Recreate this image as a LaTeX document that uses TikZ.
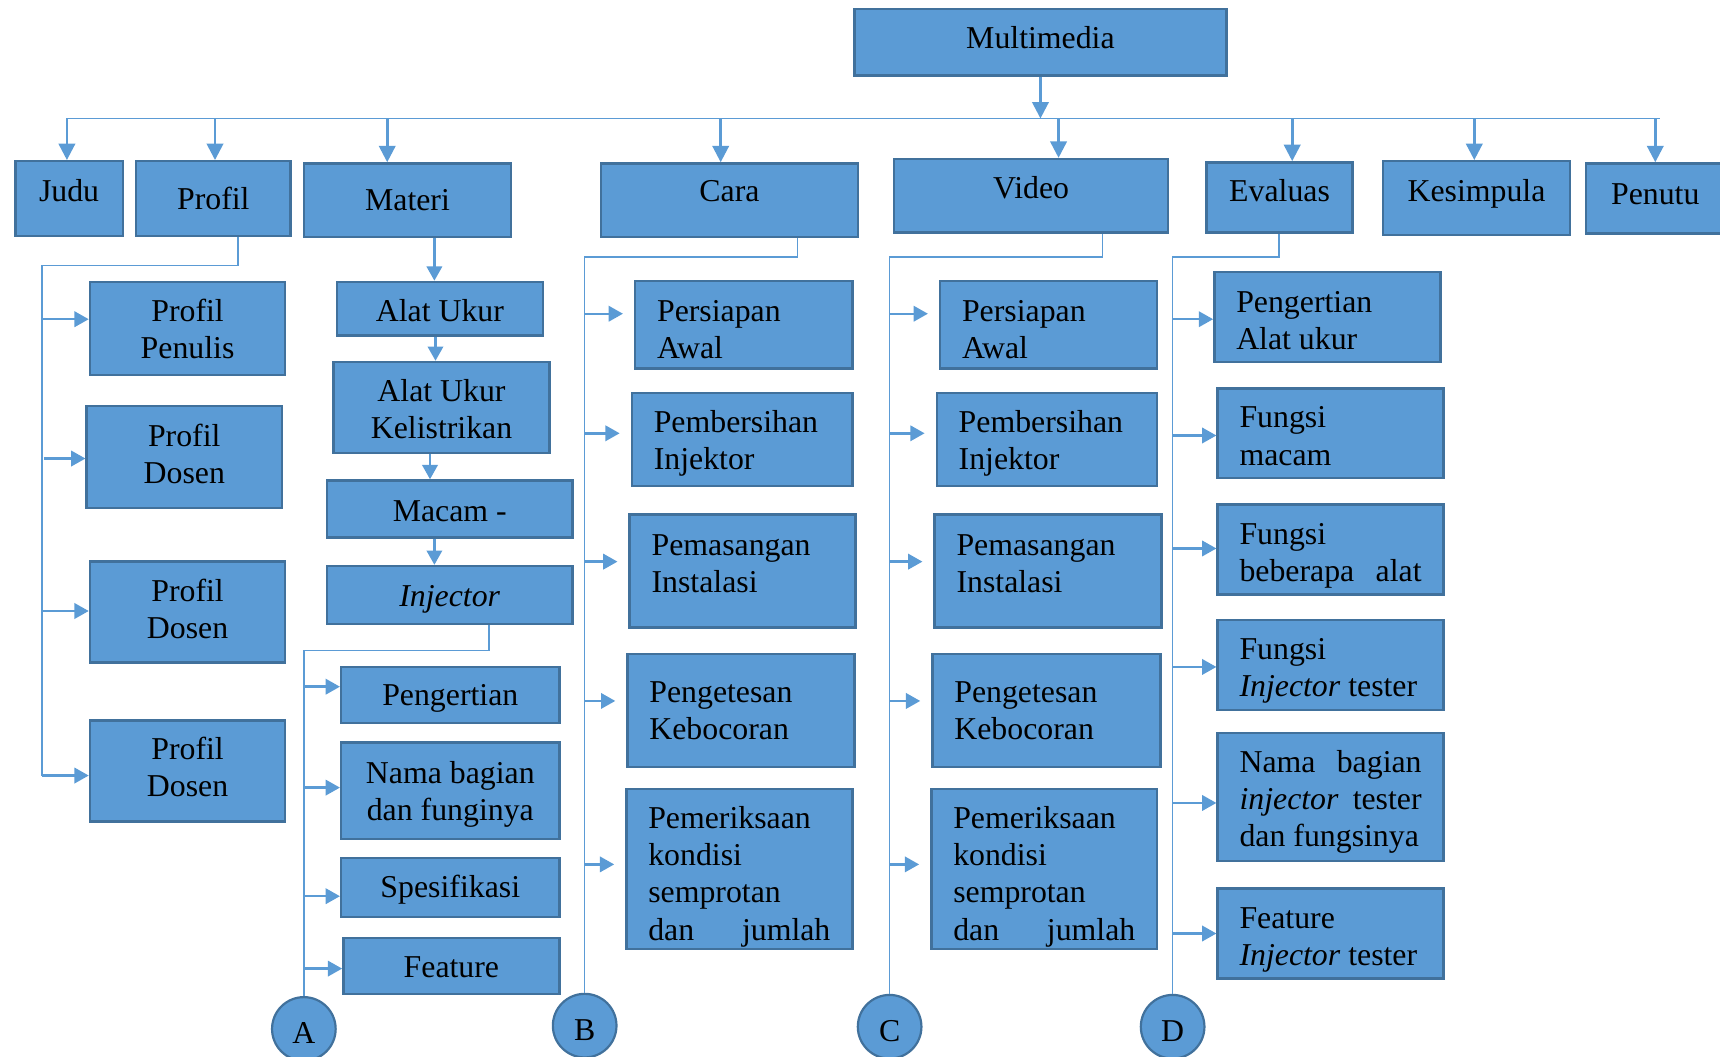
\documentclass[tikz,border=0pt]{standalone}
\usepackage{fontspec}
\setmainfont{Liberation Serif}
\usetikzlibrary{arrows.meta}
\definecolor{boxfill}{HTML}{5B9BD5}
\definecolor{boxedge}{HTML}{41719C}
\definecolor{wire}{HTML}{5B9BD5}
\tikzset{
  box/.style={draw=boxedge, fill=boxfill, line width=2.2pt, inner sep=0pt,
    font=\fontsize{29}{34}\selectfont, text=black},
  link/.style={draw=wire, line width=1.5pt},
  arr/.style={draw=wire, line width=2.2pt, -{Triangle[length=13pt,width=14pt]}},
  bigarr/.style={draw=wire, line width=2.4pt, -{Triangle[length=15pt,width=15pt]}},
  badge/.style={circle, draw=boxedge, fill=boxfill, line width=2pt,
    minimum size=58pt, inner sep=0pt, font=\fontsize{29}{34}\selectfont}
}
% box from corners (x1,y1)-(x2,y2); optional first argument lifts the text
\newcommand\mkc[7][0]{%
  \pgfmathsetmacro\boxW{#5-#3}\pgfmathsetmacro\boxH{#6-#4}%
  \pgfmathsetmacro\boxX{(#3+#5)/2}\pgfmathsetmacro\boxY{(#4+#6)/2}%
  \node[box, minimum width=\boxW pt, minimum height=\boxH pt] (#2) at (\boxX,\boxY)
    {\raisebox{#1pt}[\height][\depth]{\begin{tabular}{@{}c@{}}#7\end{tabular}}};}
\newcommand\mkl[7][0]{%
  \pgfmathsetmacro\boxW{#5-#3}\pgfmathsetmacro\boxH{#6-#4}%
  \pgfmathsetmacro\boxT{#5-#3-40}%
  \pgfmathsetmacro\boxX{(#3+#5)/2}\pgfmathsetmacro\boxY{(#4+#6)/2}%
  \node[box, minimum width=\boxW pt, minimum height=\boxH pt] (#2) at (\boxX,\boxY)
    {\raisebox{#1pt}[\height][\depth]{\begin{tabular}{@{}p{\boxT pt}@{}}#7\end{tabular}}};}
% two words pushed to both ends of a line
\newcommand\spread[2]{\makebox[\linewidth]{#1\hfill #2}}
\newcommand\letter[1]{\raisebox{-4pt}[\height][\depth]{#1}}
\begin{document}
\begin{tikzpicture}[x=1pt, y=-1pt]
\useasboundingbox (0,0) rectangle (1568,963);

% top level
\mkc[1.3]{mm}{779}{8}{1118}{69}{Multimedia}
\mkc[3.8]{judul}{14}{147}{112}{215}{Judu}
\mkc[-3.2]{profil}{124}{147}{265}{215}{Profil}
\mkc[-2.7]{materi}{277}{149}{466}{216}{Materi}
\mkc[5.3]{cara}{548}{149}{782}{216}{Cara}
\mkc[4.3]{video}{815}{145}{1065}{212}{Video}
\mkc[2.8]{eval}{1100}{148}{1233}{212}{Evaluas}
\mkc[3.3]{kesimp}{1261}{147}{1431}{214}{Kesimpula}
\mkc[1.8]{penutup}{1446}{149}{1572}{213}{Penutu}

% profil column
\mkc[-3.7]{ppen}{82}{257}{260}{342}{Profil\\Penulis}
\mkc[-0.7]{pdA}{79}{370}{257}{463}{Profil\\Dosen}
\mkc[-0.2]{pdB}{82}{512}{260}{604}{Profil\\Dosen}
\mkc[0.8]{pdC}{82}{657}{260}{749}{Profil\\Dosen}

% materi column
\mkc[-4.7]{alat}{307}{257}{495}{306}{Alat Ukur}
\mkc[-4.7]{alatk}{304}{330}{501}{413}{Alat Ukur\\Kelistrikan}
\mkc[-4.2]{macam}{298}{438}{522}{490}{Macam -}
\mkc[-3.7]{inj}{298}{516}{522}{569}{\textit{Injector}}
\mkc[-2.7]{peng}{311}{608}{510}{659}{Pengertian}
\mkc[-3.2]{nama}{311}{677}{510}{765}{Nama bagian\\dan funginya}
\mkc[-2.2]{spek}{311}{782}{510}{836}{Spesifikasi}
\mkc[-3.7]{feat}{313}{855}{510}{906}{Feature}

% cara column
\mkl[-7.2]{bA}{579}{256}{777}{336}{Persiapan\\Awal}
\mkl[-3.7]{bB}{576}{358}{777}{443}{Pembersihan\\Injektor}
\mkl[4.3]{bC}{574}{469}{780}{572}{Pemasangan\\Instalasi}
\mkl[-2.7]{bD}{572}{596}{779}{699}{Pengetesan\\Kebocoran}
\mkl[-7.2]{bE}{571}{719}{777}{865}{Pemeriksaan\\kondisi\\semprotan\\\spread{dan}{jumlah}}

% video column
\mkl[-7.2]{cA}{857}{256}{1055}{336}{Persiapan\\Awal}
\mkl[-3.7]{cB}{854}{358}{1055}{443}{Pembersihan\\Injektor}
\mkl[4.3]{cC}{852}{469}{1059}{572}{Pemasangan\\Instalasi}
\mkl[-2.7]{cD}{850}{596}{1058}{699}{Pengetesan\\Kebocoran}
\mkl[-7.2]{cE}{849}{719}{1055}{865}{Pemeriksaan\\kondisi\\semprotan\\\spread{dan}{jumlah}}

% evaluasi column
\mkl[-6.2]{dA}{1107}{248}{1313}{330}{Pengertian\\Alat ukur}
\mkl[-5.2]{dB}{1110}{354}{1316}{436}{Fungsi\\macam}
\mkl[-5.2]{dC}{1110}{460}{1316}{542}{Fungsi\\\spread{beberapa}{alat}}
\mkl[-5.2]{dD}{1110}{565}{1316}{647}{Fungsi\\\textit{Injector} tester}
\mkl[-4.7]{dE}{1110}{668}{1316}{785}{\spread{Nama}{bagian}\\\spread{\textit{injector}}{tester}\\dan fungsinya}
\mkl[-5.2]{dF}{1110}{810}{1316}{892}{Feature\\\textit{Injector} tester}

% connector badges
\node[badge] (oA) at (277,938) {\letter{A}};
\node[badge] (oB) at (533,935) {\letter{B}};
\node[badge] (oC) at (811,936) {\letter{C}};
\node[badge] (oD) at (1069,936) {\letter{D}};

% bus under the title
\coordinate (busL) at (61,108);
\coordinate (busR) at (1513,108);
\draw[bigarr] (mm.south) -- (mm.south |- busL);
\draw[link] (busL) -- (busR);
\foreach \n/\x in {judul/61, profil/196, materi/353, cara/657, video/965, eval/1178, kesimp/1344, penutup/1509}{
  \coordinate (tap-\n) at (\x,108);
  \draw[bigarr] (tap-\n) -- (tap-\n |- \n.north);
}

% profil branch
\coordinate (pk1) at (217,242);
\coordinate (pk2) at (38,242);
\coordinate (pa1) at (38,291);
\coordinate (pa2) at (40,418);
\coordinate (pa3) at (38,557);
\coordinate (pa4) at (38,707);
\draw[link] (profil.south -| pk1) -- (pk1) -- (pk2) -- (pa4);
\draw[arr] (pa1) -- (pa1 -| ppen.west);
\draw[arr] (pa2) -- (pa2 -| pdA.west);
\draw[arr] (pa3) -- (pa3 -| pdB.west);
\draw[arr] (pa4) -- (pa4 -| pdC.west);

% materi chain
\coordinate (m1) at (396,0);
\coordinate (m2) at (397,0);
\coordinate (m3) at (392,0);
\coordinate (m4) at (396,0);
\draw[arr] (materi.south -| m1) -- (alat.north -| m1);
\draw[arr] (alat.south -| m2) -- (alatk.north -| m2);
\draw[arr] (alatk.south -| m3) -- (macam.north -| m3);
\draw[arr] (macam.south -| m4) -- (inj.north -| m4);

% injector branch
\coordinate (ik1) at (446,593);
\coordinate (ik2) at (277,593);
\draw[link] (inj.south -| ik1) -- (ik1) -- (ik2) -- (oA.north);
\foreach \y/\n in {626/peng, 718/nama, 817/spek, 883/feat}{
  \coordinate (ia-\n) at (277,\y);
  \draw[arr] (ia-\n) -- (ia-\n -| \n.west);
}

% cara branch
\coordinate (bk1) at (727,234);
\coordinate (bk2) at (533,234);
\draw[link] (cara.south -| bk1) -- (bk1) -- (bk2) -- (oB.north);
\foreach \y/\n in {286/bA, 395/bB, 512/bC, 639/bD, 788/bE}{
  \coordinate (ba-\n) at (533,\y);
  \draw[arr, shorten >=10pt] (ba-\n) -- (ba-\n -| \n.west);
}

% video branch
\coordinate (ck1) at (1005,234);
\coordinate (ck2) at (811,234);
\draw[link] (video.south -| ck1) -- (ck1) -- (ck2) -- (oC.north);
\foreach \y/\n in {286/cA, 395/cB, 512/cC, 639/cD, 788/cE}{
  \coordinate (ca-\n) at (811,\y);
  \draw[arr, shorten >=10pt] (ca-\n) -- (ca-\n -| \n.west);
}

% evaluasi branch
\coordinate (dk1) at (1166,234);
\coordinate (dk2) at (1069,234);
\draw[link] (eval.south -| dk1) -- (dk1) -- (dk2) -- (oD.north);
\foreach \y/\n in {291/dA, 397/dB, 500/dC, 608/dD, 732/dE, 851/dF}{
  \coordinate (da-\n) at (1069,\y);
  \draw[arr] (da-\n) -- (da-\n -| \n.west);
}
\end{tikzpicture}
\end{document}
